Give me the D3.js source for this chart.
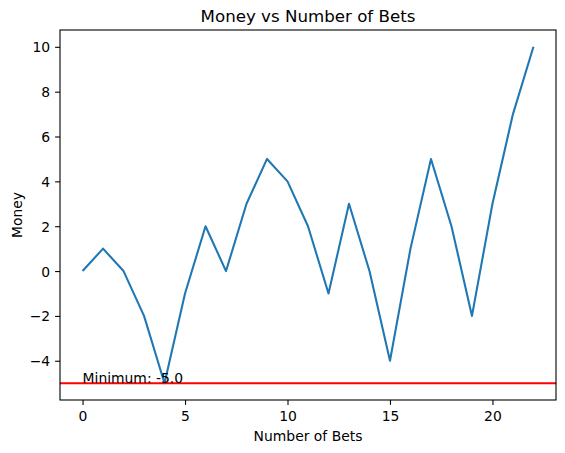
<!DOCTYPE html>
<html>
<head>
<meta charset="utf-8">
<script src="https://cdn.jsdelivr.net/npm/d3@7"></script>
<style>
  html, body { margin: 0; padding: 0; background: #fff; }
  svg { display: block; }
  text { font-family: "DejaVu Sans", sans-serif; fill: #000; }
</style>
</head>
<body>
<script>
const bets = [0,1,2,3,4,5,6,7,8,9,10,11,12,13,14,15,16,17,18,19,20,21,22];
const money = [0,1,0,-2,-5,-1,2,0,3,5,4,2,-1,3,0,-4,1,5,2,-2,3,7,10];
const xTicks = [0,5,10,15,20];
const yTicks = [-4,-2,0,2,4,6,8,10];
const minimum = -5;
const title = "Money vs Number of Bets";
const xLabel = "Number of Bets";
const yLabel = "Money";

const W = 565, H = 453;
const L = 60, R = 556, T = 30, B = 400;

const svg = d3.select("body").append("svg").attr("width", W).attr("height", H);

const xMin = d3.min(bets), xMax = d3.max(bets);
const xPad = (xMax - xMin) * 0.05;
const yMin = d3.min(money), yMax = d3.max(money);
const yPad = (yMax - yMin) * 0.05;

const x = d3.scaleLinear().domain([xMin - xPad, xMax + xPad]).range([L, R]);
const y = d3.scaleLinear().domain([yMin - yPad, yMax + yPad]).range([B, T]);

const fmt = d => (d < 0 ? "\u2212" + Math.abs(d) : String(d));

// line
svg.append("path")
  .datum(bets.map((b, i) => [b, money[i]]))
  .attr("fill", "none")
  .attr("stroke", "#1f77b4")
  .attr("stroke-width", 2.08)
  .attr("stroke-linejoin", "round")
  .attr("stroke-linecap", "butt")
  .attr("d", d3.line().x(d => x(d[0])).y(d => y(d[1])));

// minimum line
svg.append("line")
  .attr("x1", L).attr("x2", R)
  .attr("y1", y(minimum)).attr("y2", y(minimum))
  .attr("stroke", "red").attr("stroke-width", 2.08);

svg.append("text")
  .attr("x", x(0)).attr("y", y(minimum))
  .attr("font-size", 13.9)
  .attr("fill", "#000")
  .text("Minimum: " + minimum.toFixed(1));

// axes
const xAxis = d3.axisBottom(x).tickValues(xTicks).tickSize(4.9).tickPadding(4.9).tickFormat(fmt);
const yAxis = d3.axisLeft(y).tickValues(yTicks).tickSize(4.9).tickPadding(4.9).tickFormat(fmt);

const gx = svg.append("g").attr("transform", `translate(0,${B})`).call(xAxis);
const gy = svg.append("g").attr("transform", `translate(${L},0)`).call(yAxis);

[gx, gy].forEach(g => {
  g.select(".domain").remove();
  g.selectAll(".tick line").attr("stroke", "#000").attr("stroke-width", 1.1);
  g.selectAll(".tick text").attr("font-size", 13.9).attr("font-family", "DejaVu Sans").attr("fill", "#000");
});
gx.selectAll(".tick text").attr("dy", null).attr("y", 21);
gy.selectAll(".tick text").attr("dy", "0.36em");

// frame
svg.append("rect")
  .attr("x", L).attr("y", T).attr("width", R - L).attr("height", B - T)
  .attr("fill", "none").attr("stroke", "#000").attr("stroke-width", 1.1);

// title & labels
svg.append("text")
  .attr("x", (L + R) / 2).attr("y", 21.7)
  .attr("text-anchor", "middle").attr("font-size", 16.67)
  .text(title);

svg.append("text")
  .attr("x", (L + R) / 2).attr("y", 441)
  .attr("text-anchor", "middle").attr("font-size", 13.9)
  .text(xLabel);

svg.append("text")
  .attr("transform", `translate(22,${(T + B) / 2}) rotate(-90)`)
  .attr("text-anchor", "middle").attr("font-size", 13.9)
  .text(yLabel);
</script>
</body>
</html>
